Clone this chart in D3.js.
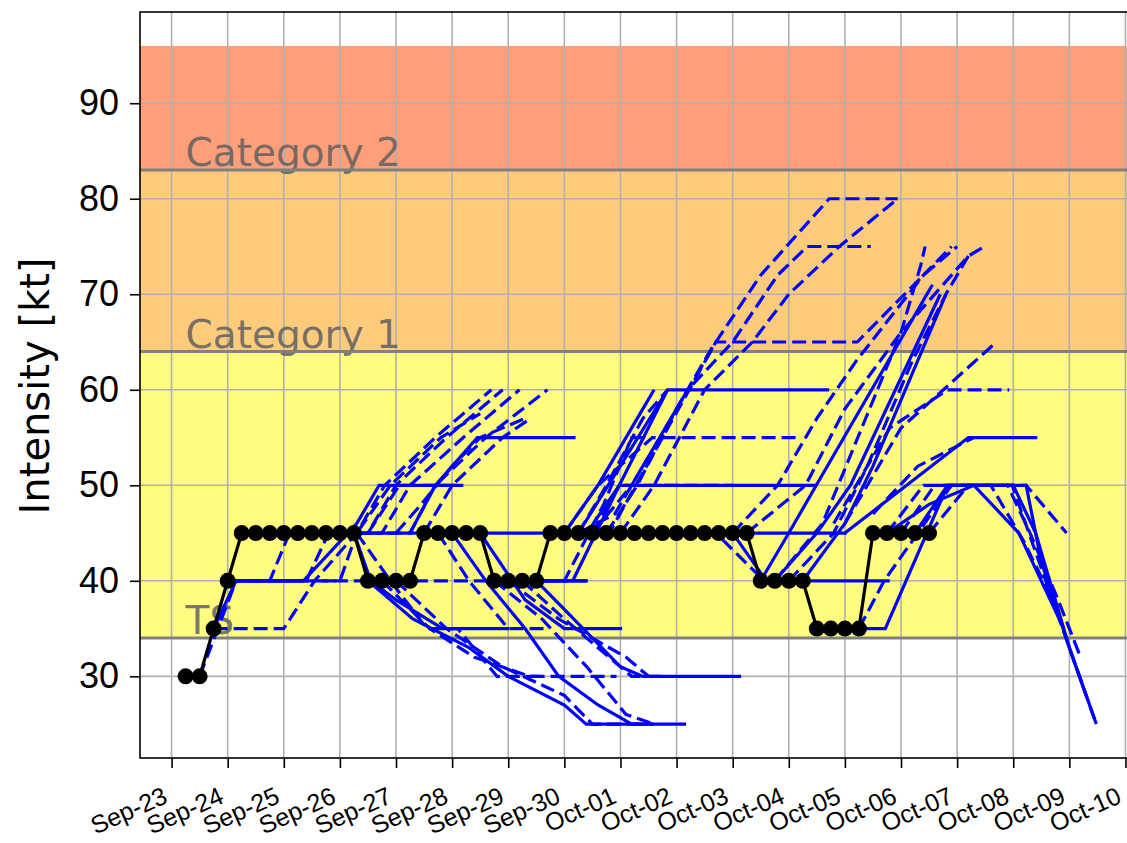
<!DOCTYPE html>
<html>
<head>
<meta charset="utf-8">
<script src="https://cdn.jsdelivr.net/npm/d3@7"></script>
<style>
  body { margin: 0; background: #fff; }
  svg { display: block; font-family: "DejaVu Sans", sans-serif; }
</style>
</head>
<body>
<svg id="chart" width="1127" height="843"></svg>
<script>
// best track: days after Sep-23 00Z and intensity (kt)
const trackDay = [0.25, 0.5, 0.75, 1.0, 1.25, 1.5, 1.75, 2.0, 2.25, 2.5, 2.75, 3.0, 3.25,
  3.5, 3.75, 4.0, 4.25, 4.5, 4.75, 5.0, 5.25, 5.5, 5.75, 6.0, 6.25, 6.5,
  6.75, 7.0, 7.25, 7.5, 7.75, 8.0, 8.25, 8.5, 8.75, 9.0, 9.25, 9.5, 9.75, 10.0, 10.25,
  10.5, 10.75, 11.0, 11.25, 11.5, 11.75, 12.0, 12.25, 12.5, 12.75, 13.0, 13.25, 13.5];
const trackKt = [30, 30, 35, 40, 45, 45, 45, 45, 45, 45, 45, 45, 45,
  40, 40, 40, 40, 45, 45, 45, 45, 45, 40, 40, 40, 40,
  45, 45, 45, 45, 45, 45, 45, 45, 45, 45, 45, 45, 45, 45, 45,
  40, 40, 40, 40, 35, 35, 35, 35, 45, 45, 45, 45, 45];

// forecasts drawn solid: [day, kt] points
const solidForecasts = [
  [[0.75, 35], [1.15, 40], [2.35, 40], [3.3, 46], [3.7, 50], [5.2, 50]],
  [[1.25, 45], [7.0, 45]],
  [[4.25, 45], [4.7, 50], [5.45, 55], [7.2, 55]],
  [[3.25, 45], [3.55, 40], [4.0, 38], [4.83, 35], [6.02, 35]],
  [[3.5, 40], [4.3, 36], [5.3, 33], [6.0, 30], [7.0, 27], [7.39, 25], [9.17, 25]],
  [[5.5, 45], [6.3, 38], [7.0, 35], [8.03, 35]],
  [[6.5, 40], [7.0, 37], [7.5, 34], [8.0, 31], [8.39, 30], [10.15, 30]],
  [[5.0, 45], [5.6, 40], [6.3, 35], [6.9, 30], [7.6, 27], [8.2, 25], [8.6, 25]],
  [[6.75, 45], [12.03, 45]],
  [[6.75, 45], [7.4, 45], [7.98, 50], [11.49, 50]],
  [[6.5, 40], [7.15, 40], [7.98, 50], [8.84, 60], [11.72, 60]],
  [[7.25, 45], [8.1, 53], [8.84, 60]],
  [[7.0, 45], [7.6, 50], [8.3, 57], [8.6, 60]],
  [[6.0, 40], [7.4, 40]],
  [[10.0, 45], [10.6, 40], [12.8, 40]],
  [[10.5, 40], [11.0, 45], [11.49, 50], [13.56, 71]],
  [[10.75, 40], [11.5, 45], [12.1, 50], [13.7, 70]],
  [[11.25, 40], [12.0, 46], [12.5, 52], [13.8, 70]],
  [[11.5, 35], [12.72, 35], [13.83, 50], [15.0, 50], [15.4, 45], [16.0, 33], [16.48, 25]],
  [[12.0, 45], [14.2, 55], [15.43, 55]],
  [[13.25, 45], [13.83, 50], [15.23, 50], [15.5, 42], [16.0, 33], [16.3, 28]],
  [[12.75, 45], [13.5, 48], [14.3, 50], [15.1, 45], [15.9, 35]]
];

// forecasts drawn dashed: [day, kt] points
const dashedForecasts = [
  [[0.5, 30], [1.15, 40], [7.45, 40]],
  [[0.75, 35], [2.0, 35], [2.55, 40], [3.3, 45], [3.8, 50], [4.7, 55], [5.7, 60]],
  [[1.0, 40], [1.75, 40], [2.1, 45], [3.5, 45], [4.0, 50], [4.9, 55], [5.9, 60]],
  [[1.0, 40], [2.4, 40], [2.8, 45], [3.75, 45], [4.25, 50], [5.2, 55], [6.2, 60]],
  [[1.25, 40], [3.0, 40], [3.3, 45], [4.25, 45], [4.7, 50], [5.6, 55], [6.7, 60]],
  [[3.0, 45], [3.3, 45], [3.9, 50], [4.8, 55], [5.5, 57.5]],
  [[4.0, 45], [4.45, 48], [5.0, 52], [5.5, 55], [6.3, 57]],
  [[4.5, 45], [5.0, 50], [5.9, 55], [6.4, 57]],
  [[3.5, 45], [4.06, 50], [5.18, 50]],
  [[3.3, 45], [3.9, 40], [4.55, 35], [5.1, 35], [5.8, 30], [6.6, 30]],
  [[3.75, 40], [4.6, 35], [5.4, 32], [6.38, 30], [7.93, 30]],
  [[4.0, 40], [4.9, 35], [5.9, 31], [7.0, 28], [7.5, 25], [8.4, 25]],
  [[4.75, 45], [5.3, 40], [6.0, 35], [6.68, 35]],
  [[5.75, 40], [6.6, 36], [7.4, 31], [8.1, 26], [8.6, 25]],
  [[6.25, 40], [7.0, 36], [7.6, 33], [8.2, 30], [8.8, 30]],
  [[6.0, 40], [6.9, 36], [7.5, 34], [8.1, 32], [8.5, 30]],
  [[7.0, 45], [7.8, 45], [9.7, 65], [12.22, 65], [13.4, 72], [14.0, 75]],
  [[7.25, 45], [7.9, 47], [9.0, 58], [9.7, 65], [10.5, 72], [11.72, 80], [12.94, 80]],
  [[7.5, 45], [8.2, 50], [9.2, 60], [10.0, 65], [10.8, 72], [11.33, 75], [12.46, 75]],
  [[8.0, 45], [8.6, 50], [9.5, 60], [10.35, 65], [11.0, 70], [11.9, 75], [12.94, 80]],
  [[7.0, 45], [7.6, 50], [8.57, 55], [11.19, 55]],
  [[7.5, 45], [7.98, 50], [10.0, 50]],
  [[6.25, 40], [7.0, 40], [7.7, 48], [8.2, 55], [8.57, 55]],
  [[7.25, 45], [7.75, 50], [8.4, 57], [8.84, 60]],
  [[7.75, 45], [8.3, 50], [9.0, 58], [9.69, 65]],
  [[9.5, 45], [9.7, 45], [10.56, 40], [11.0, 40]],
  [[10.25, 45], [11.3, 50], [12.0, 58], [13.0, 66], [14.2, 74], [14.49, 75]],
  [[10.0, 45], [10.8, 50], [11.5, 57], [12.2, 63], [13.4, 72], [13.9, 75]],
  [[11.0, 40], [11.8, 45], [12.4, 52], [13.2, 63], [13.8, 70], [14.2, 74]],
  [[10.75, 40], [11.6, 46], [12.3, 56], [13.0, 66], [13.35, 73], [13.43, 75]],
  [[12.0, 46], [13.0, 56], [14.7, 65]],
  [[11.8, 46], [12.8, 56], [13.83, 60], [14.93, 60]],
  [[12.5, 47], [13.3, 52], [14.3, 55]],
  [[12.25, 35], [12.7, 40], [13.3, 45], [13.9, 50], [15.23, 50], [15.95, 45]],
  [[13.0, 45], [13.6, 50], [14.9, 50], [15.3, 45], [15.8, 38], [16.2, 32]],
  [[13.5, 45], [14.2, 50], [14.98, 50], [15.4, 43], [16.0, 33], [16.48, 25]],
  [[12.75, 45], [13.4, 50], [14.6, 50], [15.2, 44], [15.7, 38]]
];

// Saffir-Simpson bands (kt)
const bandNames = ["TS", "Category 1", "Category 2"];
const bandLow = [34, 64, 83];
const bandHigh = [64, 83, 96];
const bandColors = ["#fffc80", "#fdcb7c", "#ff9f7a"];

const yTicks = [30, 40, 50, 60, 70, 80, 90];

const base = Date.UTC(2023, 8, 23);
const toDate = d => new Date(base + d * 864e5);

const margin = { top: 12, left: 140 };
const plotW = 1003, plotH = 746;

const svg = d3.select("#chart");
svg.append("rect").attr("width", 1127).attr("height", 843).attr("fill", "#fff");

const xScale = d3.scaleUtc()
  .domain([toDate(-0.5625), toDate(17.3125)])
  .range([margin.left, margin.left + plotW]);
const yScale = d3.scaleLinear()
  .domain([21.45, 99.55])
  .range([margin.top + plotH, margin.top]);

svg.append("clipPath").attr("id", "plot-clip")
  .append("rect")
  .attr("x", margin.left).attr("y", margin.top)
  .attr("width", plotW).attr("height", plotH);

const plot = svg.append("g").attr("clip-path", "url(#plot-clip)");

// bands
plot.selectAll(".band")
  .data(bandLow)
  .join("rect")
  .attr("class", "band")
  .attr("x", margin.left)
  .attr("width", plotW)
  .attr("y", (d, i) => yScale(bandHigh[i]))
  .attr("height", (d, i) => yScale(d) - yScale(bandHigh[i]))
  .attr("fill", (d, i) => bandColors[i]);

// grid
const dayTicks = xScale.ticks(d3.utcDay.every(1));
plot.selectAll(".vgrid")
  .data(dayTicks)
  .join("line")
  .attr("x1", d => xScale(d)).attr("x2", d => xScale(d))
  .attr("y1", margin.top).attr("y2", margin.top + plotH)
  .attr("stroke", "#b0b0b0").attr("stroke-width", 1.6);
plot.selectAll(".hgrid")
  .data(yTicks)
  .join("line")
  .attr("x1", margin.left).attr("x2", margin.left + plotW)
  .attr("y1", d => yScale(d)).attr("y2", d => yScale(d))
  .attr("stroke", "#b0b0b0").attr("stroke-width", 1.6);

// band labels
plot.selectAll(".band-label")
  .data(bandNames)
  .join("text")
  .attr("x", xScale(toDate(trackDay[0])))
  .attr("y", (d, i) => yScale(bandLow[i]) - 4)
  .attr("fill", "#606060")
  .attr("fill-opacity", 0.85)
  .style("font-size", "39px")
  .text(d => d);

// band edges
plot.selectAll(".band-edge")
  .data(bandLow)
  .join("line")
  .attr("x1", margin.left).attr("x2", margin.left + plotW)
  .attr("y1", d => yScale(d)).attr("y2", d => yScale(d))
  .attr("stroke", "#808080").attr("stroke-width", 3);

const line = d3.line()
  .x(d => xScale(toDate(d[0])))
  .y(d => yScale(d[1]));

// forecasts
plot.selectAll(".fc-solid")
  .data(solidForecasts)
  .join("path")
  .attr("d", line)
  .attr("fill", "none")
  .attr("stroke", "#0000ff")
  .attr("stroke-width", 3.2);
plot.selectAll(".fc-dashed")
  .data(dashedForecasts)
  .join("path")
  .attr("d", line)
  .attr("fill", "none")
  .attr("stroke", "#0000ff")
  .attr("stroke-width", 3.2)
  .attr("stroke-dasharray", "14,6");

// observed track
const track = trackDay.map((d, i) => [d, trackKt[i]]);
plot.append("path")
  .datum(track)
  .attr("d", line)
  .attr("fill", "none")
  .attr("stroke", "#000")
  .attr("stroke-width", 3.2);
plot.selectAll(".obs")
  .data(track)
  .join("circle")
  .attr("cx", d => xScale(toDate(d[0])))
  .attr("cy", d => yScale(d[1]))
  .attr("r", 8)
  .attr("fill", "#000");

// axes
const yAxis = svg.append("g")
  .attr("transform", `translate(${margin.left},0)`)
  .call(d3.axisLeft(yScale).tickValues(yTicks).tickSize(10).tickPadding(11));
yAxis.selectAll("text").style("font-size", "36px").attr("fill", "#000");

const xAxis = svg.append("g")
  .attr("transform", `translate(0,${margin.top + plotH})`)
  .call(d3.axisBottom(xScale).ticks(d3.utcDay.every(1)).tickSize(10)
    .tickFormat(d3.utcFormat("%b-%d")));
xAxis.selectAll("text")
  .style("font-size", "25px")
  .attr("fill", "#000")
  .attr("text-anchor", "end")
  .attr("dy", null)
  .attr("y", null)
  .attr("transform", "translate(-3,44) rotate(-24)");

[yAxis, xAxis].forEach(a => {
  a.select(".domain").remove();
  a.selectAll("line").attr("stroke", "#000").attr("stroke-width", 1.6);
});

// frame
svg.append("rect")
  .attr("x", margin.left).attr("y", margin.top)
  .attr("width", plotW).attr("height", plotH)
  .attr("fill", "none").attr("stroke", "#000").attr("stroke-width", 1.6);

// y label
svg.append("text")
  .attr("transform", `translate(49,386) rotate(-90)`)
  .attr("text-anchor", "middle")
  .style("font-size", "40px")
  .text("Intensity [kt]");
</script>
</body>
</html>
